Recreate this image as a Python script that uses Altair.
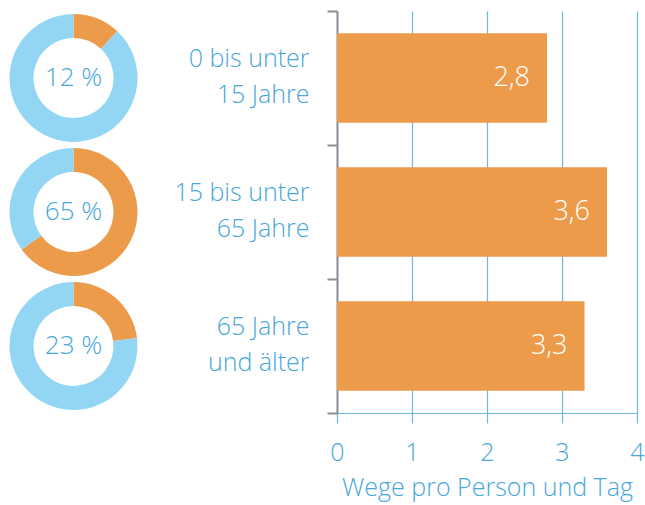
import altair as alt
import pandas as pd
import math

# ---- data ----
ages = ["0 bis unter\n15 Jahre", "15 bis unter\n65 Jahre", "65 Jahre\nund älter"]
wege = [2.8, 3.6, 3.3]          # Wege pro Person und Tag
anteil = [12, 65, 23]           # Bevölkerungsanteil in %
x_ticks = [0, 1, 2, 3, 4]

ORANGE = "#ec9b4b"
LIGHTBLUE = "#93d6f4"
BLUE = "#47a6db"
GRID = "#6cb9e0"
GREY = "#8b8e98"
FONT = "Open Sans"

bars_df = pd.DataFrame({"age": ages, "wege": wege})
pct_df = pd.DataFrame({"age": ages, "anteil": anteil})
donut_rows = []
for a, p in zip(ages, anteil):
    donut_rows.append({"age": a, "part": "Anteil", "value": p, "ord": 0})
    donut_rows.append({"age": a, "part": "Rest", "value": 100 - p, "ord": 1})
donut_df = pd.DataFrame(donut_rows)

yscale = alt.Scale(domain=ages, paddingInner=0, paddingOuter=0)

# ---- donuts ----
arcs = alt.Chart(donut_df).transform_stack(
    stack="value", groupby=["age"], as_=["v0", "v1"], sort=[alt.SortField("ord", order="ascending")]
).mark_arc(outerRadius=64, innerRadius=40).encode(
    y=alt.Y("age:N", scale=yscale, axis=None),
    theta=alt.Theta("v0:Q", scale=alt.Scale(domain=[0, 100], range=[0, 2 * math.pi])),
    theta2="v1:Q",
    color=alt.Color("part:N", scale=alt.Scale(domain=["Anteil", "Rest"], range=[ORANGE, LIGHTBLUE]), legend=None),
)
pct_text = alt.Chart(pct_df).transform_calculate(
    lbl="datum.anteil + ' %'"
).mark_text(font=FONT, fontSize=26, fontWeight=300, color=BLUE).encode(
    y=alt.Y("age:N", scale=yscale, axis=None),
    text="lbl:N",
)
donuts = alt.layer(arcs, pct_text).properties(width=147, height=402)

# ---- bars ----
base = alt.Chart(bars_df).encode(
    y=alt.Y("age:N", scale=yscale, title=None,
            axis=alt.Axis(labelExpr="split(datum.label, '\\n')", labelFont=FONT, labelFontSize=25,
                          labelFontWeight=300, labelColor=BLUE, labelLineHeight=36, labelPadding=18,
                          labelAlign="right", labelBaseline="middle", labelOffset=-20,
                          domainColor=GREY, domainWidth=2, tickColor=GREY, tickWidth=2, tickSize=10,
                          tickBand="extent", grid=False)),
)
bars = base.mark_bar(color=ORANGE, height=alt.RelativeBandSize(0.667)).encode(
    x=alt.X("wege:Q", scale=alt.Scale(domain=[0, 4]), title="Wege pro Person und Tag",
            axis=alt.Axis(values=x_ticks, format="d", grid=True, gridColor=GRID, gridWidth=1.2,
                          domainColor=GRID, tickColor=GRID, tickSize=10, tickWidth=1.2,
                          labelFlush=False,
                          labelFont=FONT, labelFontSize=25, labelFontWeight=300, labelColor=BLUE,
                          labelPadding=17, titleFont=FONT, titleFontSize=25, titleFontWeight=300,
                          titleColor=BLUE, titlePadding=10)),
)
values = base.transform_calculate(
    lbl="replace(format(datum.wege, '.1f'), '.', ',')"
).mark_text(align="right", dx=-17, font=FONT, fontSize=27, fontWeight=300, color="white").encode(
    x=alt.X("wege:Q"),
    text="lbl:N",
)
barchart = alt.layer(bars, values).properties(width=300, height=402)

chart = alt.hconcat(donuts, barchart, spacing=26).properties(
    padding={"left": 0, "top": -1, "right": 0, "bottom": 4}
).configure_view(stroke=None)

chart.save("out.html", embed_options={"renderer": "svg", "actions": False})
